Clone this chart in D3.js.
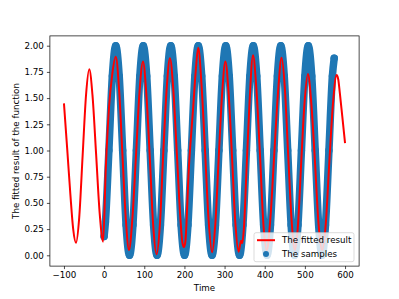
<!DOCTYPE html>
<html><head><meta charset="utf-8">
<script src="https://cdn.jsdelivr.net/npm/d3@7/dist/d3.min.js"></script>
<style>
html,body{margin:0;padding:0;background:#fff;}
svg{display:block;font-family:"DejaVu Sans",sans-serif;}
</style></head>
<body>
<svg id="chart" width="399" height="299"></svg>
<script>
// Samples (blue scatter)
const sampleX = [0, 3.3, 11.9, 20.5, 29.0, 37.6, 46.2, 54.7, 63.3, 71.8, 80.4, 89.0, 97.5, 106.1, 114.7, 123.2, 131.8, 140.3, 148.9, 157.5, 166.0, 174.6, 183.2, 191.7, 200.3, 208.8, 217.4, 226.0, 234.5, 243.1, 251.7, 260.2, 268.8, 277.3, 285.9, 294.5, 303.0, 311.6, 320.2, 328.7, 337.3, 345.8, 354.4, 363.0, 371.5, 380.1, 388.7, 397.2, 405.8, 414.3, 422.9, 431.5, 440.0, 448.6, 457.2, 465.7, 474.3, 482.8, 491.4, 500.0, 508.5, 517.1, 525.7, 534.2, 542.8, 551.3, 559.9, 568.5, 573.0];
const sampleY = [0.18, 0.32, 1.0, 1.71, 2.0, 1.71, 1.0, 0.29, 0.0, 0.29, 1.0, 1.71, 2.0, 1.71, 1.0, 0.29, 0.0, 0.29, 1.0, 1.71, 2.0, 1.71, 1.0, 0.29, 0.0, 0.29, 1.0, 1.71, 2.0, 1.71, 1.0, 0.29, 0.0, 0.29, 1.0, 1.71, 2.0, 1.71, 1.0, 0.29, 0.0, 0.29, 1.0, 1.71, 2.0, 1.71, 1.0, 0.29, 0.0, 0.29, 1.0, 1.71, 2.0, 1.71, 1.0, 0.29, 0.0, 0.29, 1.0, 1.71, 2.0, 1.71, 1.0, 0.29, 0.0, 0.29, 1.0, 1.71, 1.88];

// Fitted result (red line)
const fitX = [-100, -92, -84, -77, -70, -62, -53.5, -45, -37, -29, -20, -11, -2.5, 4.2, 12.4, 20, 29, 37, 45.5, 54, 62, 70, 79.4, 88, 96.8, 105, 113.8, 122, 130.8, 139, 147, 156, 163.9, 172, 181, 190, 195, 198.6, 202, 211, 222, 228, 234.3, 243, 251.6, 260, 269, 277, 285.5, 294, 302, 310, 318.5, 327, 335, 341, 344, 348, 355, 362, 370.8, 379, 388, 397, 405, 414, 423.5, 433, 442, 450, 458.5, 467, 475, 483, 491, 499, 507.5, 516, 525, 534, 543, 552, 561, 570, 579, 583, 587, 593, 600];
const fitY = [1.45, 1.02, 0.58, 0.25, 0.12, 0.36, 0.95, 1.53, 1.775, 1.53, 0.97, 0.40, 0.13, 0.83, 1.42, 1.72, 1.895, 1.6, 0.97, 0.35, 0.05, 0.33, 0.95, 1.55, 1.85, 1.55, 0.93, 0.3, 0.01, 0.3, 0.95, 1.6, 1.88, 1.6, 0.98, 0.35, 0.12, 0.08, 0.12, 0.83, 1.42, 1.75, 1.98, 1.6, 0.98, 0.35, 0.03, 0.3, 0.94, 1.55, 1.85, 1.55, 0.94, 0.3, 0.035, 0.14, 0.115, 0.25, 0.85, 1.45, 1.91, 1.6, 0.97, 0.28, 0.05, 0.35, 0.95, 1.55, 1.885, 1.6, 0.95, 0.33, 0.05, 0.3, 0.9, 1.45, 1.73, 1.45, 0.9, 0.3, 0.05, 0.3, 0.9, 1.45, 1.72, 1.68, 1.55, 1.33, 1.07];

const xTicks = [-100, 0, 100, 200, 300, 400, 500, 600];
const yTicks = [0, 0.25, 0.5, 0.75, 1.0, 1.25, 1.5, 1.75, 2.0];
const labels = {x: "Time", y: "The fitted result of the function", fit: "The fitted result", samples: "The samples"};

const svg = d3.select("#chart");
const L = 49.9, R = 359.1, T = 35.9, B = 266.1;
const x = d3.scaleLinear().domain([-135, 635]).range([L, R]);
const y = d3.scaleLinear().domain([-0.103, 2.0935]).range([B, T]);
const blue = "#1f77b4", red = "#ff0000";

svg.append("defs").append("clipPath").attr("id","clip")
  .append("rect").attr("x",L).attr("y",T).attr("width",R-L).attr("height",B-T);

const plot = svg.append("g").attr("clip-path","url(#clip)");
const samples = sampleX.map((d,i)=>({x:d,y:sampleY[i]}));
const fit = fitX.map((d,i)=>({x:d,y:fitY[i]}));

// dense samples band
plot.append("path").datum(samples)
  .attr("d", d3.line().x(d=>x(d.x)).y(d=>y(d.y)).curve(d3.curveMonotoneX))
  .attr("fill","none").attr("stroke",blue).attr("stroke-width",7.5)
  .attr("stroke-linecap","round").attr("stroke-linejoin","round");
plot.selectAll("circle.s").data(samples).join("circle").attr("class","s")
  .attr("cx",d=>x(d.x)).attr("cy",d=>y(d.y)).attr("r",3.7).attr("fill",blue);

plot.append("path").datum(fit)
  .attr("d", d3.line().x(d=>x(d.x)).y(d=>y(d.y)).curve(d3.curveMonotoneX))
  .attr("fill","none").attr("stroke",red).attr("stroke-width",2)
  .attr("stroke-linejoin","round");

// axes
const fmtX = d => (d<0 ? "\u2212" + Math.abs(d) : String(d));
const xAxis = svg.append("g").attr("transform",`translate(0,${B})`)
  .call(d3.axisBottom(x).tickValues(xTicks).tickFormat(fmtX).tickSize(3).tickPadding(3));
const yAxis = svg.append("g").attr("transform",`translate(${L},0)`)
  .call(d3.axisLeft(y).tickValues(yTicks).tickFormat(d3.format(".2f")).tickSize(3).tickPadding(3));
[xAxis,yAxis].forEach(g=>{
  g.select(".domain").remove();
  g.selectAll("line").attr("stroke","#000").attr("stroke-width",0.7);
  g.selectAll("text").attr("fill","#000").style("font-size","8.7px").style("font-family","DejaVu Sans");
});

svg.append("rect").attr("x",L).attr("y",T).attr("width",R-L).attr("height",B-T)
  .attr("fill","none").attr("stroke","#000").attr("stroke-width",0.7);

svg.append("text").attr("x",(L+R)/2).attr("y",290.5).attr("text-anchor","middle")
  .style("font-size","8.7px").text(labels.x);
svg.append("text").attr("transform",`translate(19,${(T+B)/2}) rotate(-90)`)
  .attr("text-anchor","middle").style("font-size","8.7px").text(labels.y);

// legend
const lg = svg.append("g");
lg.append("rect").attr("x",254).attr("y",232.7).attr("width",100).attr("height",29)
  .attr("rx",2).attr("fill","#fff").attr("fill-opacity",0.8).attr("stroke","#cccccc").attr("stroke-width",0.7);
lg.append("line").attr("x1",257).attr("x2",275).attr("y1",240.2).attr("y2",240.2)
  .attr("stroke",red).attr("stroke-width",2);
lg.append("text").attr("x",282).attr("y",243.3).style("font-size","8.7px").text(labels.fit);
lg.append("circle").attr("cx",266).attr("cy",254).attr("r",3).attr("fill",blue);
lg.append("text").attr("x",282).attr("y",257.3).style("font-size","8.7px").text(labels.samples);
</script>
</body></html>
